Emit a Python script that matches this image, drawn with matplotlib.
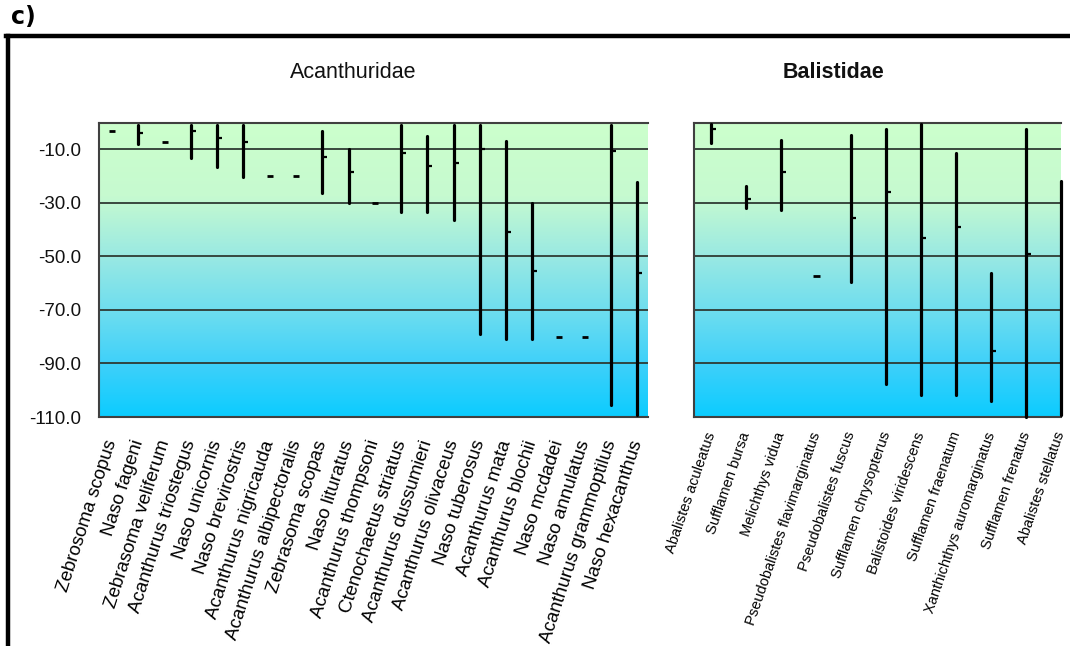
import numpy as np
import matplotlib
matplotlib.use("Agg")
import matplotlib.pyplot as plt
from matplotlib.colors import LinearSegmentedColormap
from matplotlib.lines import Line2D

# Depth ranges (m) per species: shallowest, deepest and mean record
acan_species = [
    "Zebrosoma scopus", "Naso fageni", "Zebrasoma veliferum", "Acanthurus triostegus",
    "Naso unicornis", "Naso brevirostris", "Acanthurus nigricauda",
    "Acanthurus albipectoralis", "Zebrasoma scopas", "Naso lituratus",
    "Acanthurus thompsoni", "Ctenochaetus striatus", "Acanthurus dussumieri",
    "Acanthurus olivaceus", "Naso tuberosus", "Acanthurus mata", "Acanthurus blochii",
    "Naso mcdadei", "Naso annulatus", "Acanthurus grammoptilus", "Naso hexacanthus",
]
acan_top = [-3, -1, -7.3, -1, -1, -1, -20, -20, -3, -10, -30, -1, -5, -1, -1,
            -7, -30, -80, -80, -1, -22]
acan_bottom = [-3, -8, -7.3, -13.3, -16.7, -20.2, -20, -20, -26.4, -30, -30,
               -33.3, -33.3, -36.4, -79, -80.7, -80.7, -80, -80, -105.6, -109.3]
acan_mean = [-3, -3.7, -7.3, -3, -5.9, -7.1, -20, -20, -12.7, -18.3, -30,
             -11.4, -16.1, -15.2, -9.8, -40.9, -55.3, -80, -80, -10.5, -56.3]

bal_species = [
    "Abalistes aculeatus", "Sufflamen bursa", "Melichthys vidua",
    "Pseudobalistes flavimarginatus", "Pseudobalistes fuscus",
    "Sufflamen chrysopterus", "Balistoides viridescens", "Sufflamen fraenatum",
    "Xanthichthys auromarginatus", "Sufflamen frenatus", "Abalistes stellatus",
]
bal_top = [-0.5, -23.7, -6.5, -57.3, -4.6, -2.4, -0.5, -11.2, -56.3, -2.5, -21.8]
bal_bottom = [-7.5, -31.9, -32.6, -57.3, -59.7, -97.8, -101.9, -101.9, -103.9,
              -109.9, -109.3]
bal_mean = [-2.4, -28.5, -18.5, -57.3, -35.5, -25.8, -43, -38.9, -85.3, -49.2, -65]

y_ticks = [-10, -30, -50, -70, -90, -110]
y_ticklabels = ["-10.0", "-30.0", "-50.0", "-70.0", "-90.0", "-110.0"]
grid_levels = [-10, -30, -50, -70, -90]

W, H = 1070, 646
fig = plt.figure(figsize=(W / 100, H / 100), dpi=100)
fig.patch.set_facecolor("white")

# Background fill: pale green near the surface grading into cyan at depth
depth_cmap = LinearSegmentedColormap.from_list(
    "depth",
    [(0.0, (204/255, 255/255, 204/255)),
     (0.25, (198/255, 250/255, 208/255)),
     (0.47, (150/255, 232/255, 228/255)),
     (0.66, (105/255, 220/255, 240/255)),
     (0.83, (60/255, 208/255, 250/255)),
     (1.0, (12/255, 204/255, 255/255))])


def fx(px):
    return px / W


def fy(py):
    return 1 - py / H


def draw_panel(ax, top, bottom, mean, xmax, tick_len, dot_half):
    grad = np.linspace(0, 1, 256).reshape(-1, 1)
    ax.imshow(grad, cmap=depth_cmap, aspect="auto",
              extent=(-0.5, xmax, -110, 0), origin="upper", zorder=0)
    for g in grid_levels:
        ax.axhline(g, color="#2e3a33", lw=1.3, zorder=1)
    x = np.arange(len(top))
    top = np.asarray(top, float)
    bottom = np.asarray(bottom, float)
    mean = np.asarray(mean, float)
    ranged = top != bottom
    ax.vlines(x[ranged], bottom[ranged], top[ranged], color="black", lw=2.3,
              zorder=3, capstyle="round", clip_on=False)
    ax.hlines(mean[ranged], x[ranged], x[ranged] + tick_len, color="black",
              lw=1.6, zorder=3)
    ax.hlines(mean[~ranged], x[~ranged] - dot_half, x[~ranged] + dot_half,
              color="black", lw=2.0, zorder=3)
    ax.set_xlim(-0.5, xmax)
    ax.set_ylim(-110, 0)
    for s in ax.spines.values():
        s.set_color("#404040")
        s.set_linewidth(1.5)
    ax.spines["right"].set_visible(False)
    ax.set_xticks(x)


y0, y1 = 122.7, 417.0
ax1 = fig.add_axes([fx(99), fy(y1), fx(648 - 99), (y1 - y0) / H])
draw_panel(ax1, acan_top, acan_bottom, acan_mean, 20.4, 0.19, 0.12)
ax1.set_yticks(y_ticks)
ax1.set_yticklabels(y_ticklabels, fontsize=13.5, family="Liberation Sans",
                    color="#111111")
ax1.tick_params(axis="y", length=0, pad=13)
ax1.set_xticklabels(acan_species, rotation=72, ha="right", va="center",
                    rotation_mode="anchor", fontsize=13.5,
                    family="Liberation Sans")
ax1.tick_params(axis="x", length=0, pad=17)

ax2 = fig.add_axes([fx(694), fy(y1), fx(1061 - 694), (y1 - y0) / H])
draw_panel(ax2, bal_top, bal_bottom, bal_mean, 9.98, 0.14, 0.1)
ax2.set_yticks([])
ax2.set_xticklabels(bal_species, rotation=71, ha="right", va="center",
                    rotation_mode="anchor", fontsize=10.5,
                    family=["Liberation Sans Narrow", "Liberation Sans"])
ax2.tick_params(axis="x", length=0, pad=11)

# Family titles
fig.text(fx(353), fy(72), "Acanthuridae", ha="center", va="center",
         fontsize=15.5, family="Liberation Sans", color="#111111")
fig.text(fx(833), fy(72), "Balistidae", ha="center", va="center",
         fontsize=15.5, family="Liberation Sans", fontweight="bold",
         color="#111111")

# Panel letter and frame
fig.text(fx(11), fy(17), "c)", ha="left", va="center", fontsize=17,
         fontweight="bold", family="DejaVu Sans")
fig.add_artist(Line2D([fx(6), 1.0], [fy(35.5), fy(35.5)], color="black",
                      lw=3.2, transform=fig.transFigure))
fig.add_artist(Line2D([fx(8), fx(8)], [fy(35.5), 0.0], color="black",
                      lw=3.2, transform=fig.transFigure))

fig.savefig("out.png", dpi=100)
